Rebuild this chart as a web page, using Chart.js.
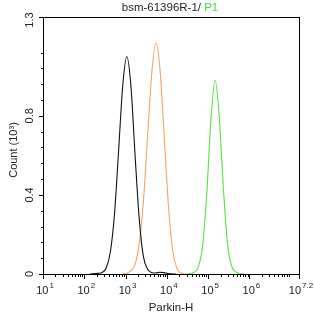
<!DOCTYPE html>
<html>
<head>
<meta charset="utf-8">
<script src="https://cdn.jsdelivr.net/npm/chart.js@4/dist/chart.umd.min.js"></script>
<style>
  html, body { margin: 0; padding: 0; background: #fff; }
  #myChart { display: block; }
</style>
</head>
<body>
<canvas id="myChart" width="314" height="317"></canvas>
<script>
// x values are log10 of Parkin-H intensity, y values are counts (10^3)
const blackX = [2.13, 2.33, 2.43, 2.53, 2.63, 2.73, 2.83, 2.93, 3.03, 3.13, 3.23, 3.33, 3.43, 3.53, 3.63, 3.73, 3.83, 3.93, 4.03, 4.23];
const blackY = [0, 0.003, 0.008, 0.03, 0.11, 0.30, 0.62, 0.95, 1.10, 0.95, 0.60, 0.28, 0.09, 0.025, 0.008, 0.005, 0.009, 0.007, 0.002, 0];

const orangeX = [2.94, 3.04, 3.14, 3.24, 3.34, 3.44, 3.54, 3.64, 3.74, 3.84, 3.94, 4.04, 4.14, 4.24, 4.34, 4.44];
const orangeY = [0, 0.004, 0.018, 0.055, 0.17, 0.39, 0.72, 1.03, 1.17, 1.02, 0.68, 0.34, 0.12, 0.03, 0.005, 0];

const greenX = [4.47, 4.57, 4.67, 4.77, 4.87, 4.97, 5.07, 5.17, 5.27, 5.37, 5.47, 5.57, 5.67, 5.77, 5.87];
const greenY = [0, 0.002, 0.01, 0.04, 0.15, 0.42, 0.79, 0.98, 0.79, 0.43, 0.15, 0.04, 0.01, 0.002, 0];

const xMajor = [1, 2, 3, 4, 5, 6, 7.2];
const xMajorLabels = ["1", "2", "3", "4", "5", "6", "7.2"];
const yMajor = [0, 0.4, 0.8, 1.3];
const yMajorLabels = ["0", "0.4", "0.8", "1.3"];

const titleMain = "bsm-61396R-1/ ";
const titleGate = "P1";
const xTitle = "Parkin-H";
const yTitle = "Count (10\u00B3)";

const FONT = "'Liberation Sans', Arial, sans-serif";

function toPoints(xs, ys) {
  return xs.map((x, i) => ({ x: x, y: ys[i] }));
}

// custom frame, ticks and labels (log style x labels with superscripts)
const decor = {
  id: "decor",
  afterDraw(chart) {
    const ctx = chart.ctx;
    const a = chart.chartArea;
    const xs = chart.scales.x, ys = chart.scales.y;
    ctx.save();
    ctx.strokeStyle = "#000";
    ctx.lineWidth = 1;
    ctx.strokeRect(Math.round(a.left) + 0.5, Math.round(a.top) + 0.5,
      Math.round(a.right - a.left), Math.round(a.bottom - a.top));

    ctx.beginPath();
    // x major + minor ticks
    xMajor.forEach(v => {
      const px = Math.round(xs.getPixelForValue(v)) + 0.5;
      ctx.moveTo(px, a.bottom); ctx.lineTo(px, a.bottom + 5);
    });
    for (let d = 1; d < 7.2; d++) {
      for (let m = 2; m <= 9; m++) {
        const v = d + Math.log10(m);
        if (v > 7.2) break;
        const px = Math.round(xs.getPixelForValue(v)) + 0.5;
        ctx.moveTo(px, a.bottom); ctx.lineTo(px, a.bottom + 3);
      }
    }
    // y major + minor ticks
    yMajor.forEach(v => {
      const py = Math.round(ys.getPixelForValue(v)) + 0.5;
      ctx.moveTo(a.left, py); ctx.lineTo(a.left - 4, py);
    });
    for (let k = 1; k <= 15; k++) {
      if (k % 5 === 0) continue;
      const py = Math.round(ys.getPixelForValue(k * 0.08)) + 0.5;
      ctx.moveTo(a.left, py); ctx.lineTo(a.left - 2, py);
    }
    ctx.stroke();

    ctx.fillStyle = "#222";
    ctx.textBaseline = "middle";
    // x labels
    xMajor.forEach((v, i) => {
      const px = xs.getPixelForValue(v);
      ctx.font = "11px " + FONT;
      const w1 = ctx.measureText("10").width;
      ctx.font = "8px " + FONT;
      const w2 = ctx.measureText(xMajorLabels[i]).width;
      const x0 = px - (w1 + 1 + w2) / 2 + 2;
      ctx.textAlign = "left";
      ctx.font = "11px " + FONT;
      ctx.fillText("10", x0, 291);
      ctx.font = "8px " + FONT;
      ctx.fillText(xMajorLabels[i], x0 + w1 + 1, 286);
    });
    // y labels, rotated
    ctx.font = "11px " + FONT;
    ctx.textAlign = "center";
    yMajor.forEach((v, i) => {
      const py = ys.getPixelForValue(v);
      ctx.save();
      ctx.translate(30, i === 3 ? py + 3 : py);
      ctx.rotate(-Math.PI / 2);
      ctx.fillText(yMajorLabels[i], 0, 0);
      ctx.restore();
    });
    // axis titles
    ctx.font = "11.5px " + FONT;
    ctx.fillText(xTitle, (a.left + a.right) / 2, 308);
    ctx.save();
    ctx.translate(14, 150);
    ctx.rotate(-Math.PI / 2);
    ctx.font = "11px " + FONT;
    ctx.fillText(yTitle, 0, 0);
    ctx.restore();
    // two-colour title
    ctx.font = "11.5px " + FONT;
    const wA = ctx.measureText(titleMain).width;
    const wB = ctx.measureText(titleGate).width;
    const tx = 170 - (wA + wB) / 2;
    ctx.textAlign = "left";
    ctx.fillStyle = "#222";
    ctx.fillText(titleMain, tx, 8);
    ctx.fillStyle = "#4cd64c";
    ctx.fillText(titleGate, tx + wA, 8);
    ctx.restore();
  }
};

new Chart(document.getElementById("myChart"), {
  type: "line",
  data: {
    datasets: [
      { label: "bsm-61396R-1", data: toPoints(blackX, blackY), borderColor: "#111111" },
      { label: "control", data: toPoints(orangeX, orangeY), borderColor: "#f0a468" },
      { label: "P1", data: toPoints(greenX, greenY), borderColor: "#5fdc4c" }
    ]
  },
  options: {
    responsive: false,
    animation: false,
    layout: { padding: { left: 43, right: 15, top: 17, bottom: 43 } },
    elements: {
      line: { borderWidth: 1.1, tension: 0.4, cubicInterpolationMode: "monotone", fill: false },
      point: { radius: 0 }
    },
    plugins: { legend: { display: false }, tooltip: { enabled: false } },
    scales: {
      x: { type: "linear", min: 1, max: 7.2, display: false },
      y: { type: "linear", min: 0, max: 1.3, display: false }
    }
  },
  plugins: [decor]
});
</script>
</body>
</html>
